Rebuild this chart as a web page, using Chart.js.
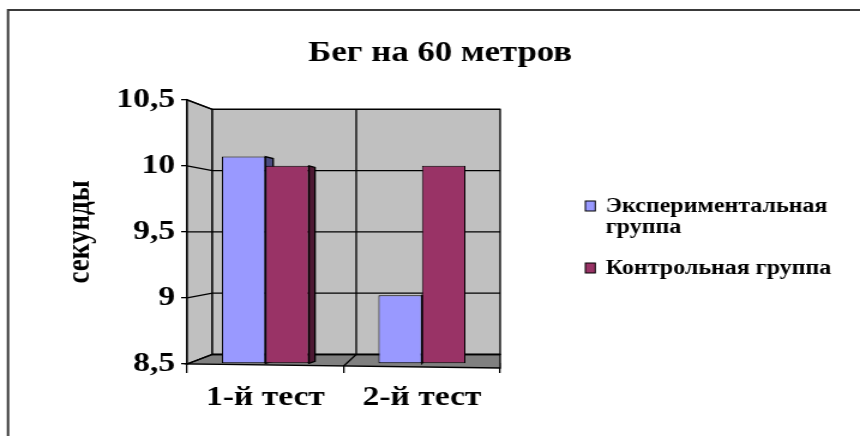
<!DOCTYPE html>
<html>
<head>
<meta charset="utf-8">
<script src="https://cdn.jsdelivr.net/npm/chart.js@4"></script>
<style>
  body { margin: 0; background: #fff; }
</style>
</head>
<body>
<!-- canvas drawn narrower and widened by the inline style, so the chart looks stretched -->
<canvas id="chart" width="717" height="436" style="display:block;width:860px;height:436px"></canvas>
<script>
const categories = ['1-й тест', '2-й тест'];
const seriesNames = ['Экспериментальная группа', 'Контрольная группа'];
const experimental = [10.07, 9.02];
const control = [10, 10];
const yTicks = [8.5, 9, 9.5, 10, 10.5];

const fontFamily = '"Liberation Serif", "Times New Roman", serif';

// fake 3d: side wall, back wall, floor and bar sides
const walls = {
  id: 'walls',
  beforeDatasetsDraw(chart) {
    const ctx = chart.ctx;
    const ca = chart.chartArea;
    const ys = chart.scales.y;
    const xs = chart.scales.x;
    const L = ca.left, R = ca.right;
    const dx = 21;
    const mid = (ca.top + ca.bottom) / 2;
    const yF = v => ys.getPixelForValue(v);
    const yB = v => mid + (yF(v) - mid) * 0.928;
    const xB = x => R - (R - x) * (R - L - dx) / (R - L);
    const lo = yTicks[0], hi = yTicks[yTicks.length - 1];

    ctx.save();
    ctx.lineWidth = 1.3;
    ctx.strokeStyle = '#000';

    // left side wall
    ctx.fillStyle = '#c0c0c0';
    ctx.beginPath();
    ctx.moveTo(L, yF(hi));
    ctx.lineTo(L + dx, yB(hi));
    ctx.lineTo(L + dx, yB(lo));
    ctx.lineTo(L, yF(lo));
    ctx.closePath();
    ctx.fill();
    ctx.stroke();

    // back wall
    ctx.fillRect(L + dx, yB(hi), R - L - dx, yB(lo) - yB(hi));
    ctx.strokeRect(L + dx, yB(hi), R - L - dx, yB(lo) - yB(hi));

    // floor
    ctx.fillStyle = '#808080';
    ctx.beginPath();
    ctx.moveTo(L, yF(lo));
    ctx.lineTo(L + dx, yB(lo));
    ctx.lineTo(R, yB(lo));
    ctx.lineTo(R, yF(lo) + 4);
    ctx.closePath();
    ctx.fill();
    ctx.stroke();

    // grid lines on the walls
    ctx.beginPath();
    yTicks.forEach(v => {
      ctx.moveTo(L, yF(v));
      ctx.lineTo(L + dx, yB(v));
      ctx.lineTo(R, yB(v));
    });
    // category divider on the back wall and floor
    for (let i = 1; i < categories.length; i++) {
      const xf = (xs.getPixelForValue(i - 1) + xs.getPixelForValue(i)) / 2;
      ctx.moveTo(xB(xf), yB(hi));
      ctx.lineTo(xB(xf), yB(lo));
      ctx.lineTo(xf, yF(lo) + 2);
    }
    ctx.stroke();

    // right side faces of the bars (covered by the front faces drawn next)
    const shades = ['#4c4c80', '#4d1933'];
    chart.data.datasets.forEach((ds, i) => {
      chart.getDatasetMeta(i).data.forEach(bar => {
        const p = bar.getProps(['x', 'y', 'base', 'width'], true);
        const xr = p.x + p.width / 2;
        const d = Math.max(0, (R - 25 - xr) * 0.038);
        if (d < 0.5) return;
        ctx.fillStyle = shades[i];
        ctx.beginPath();
        ctx.moveTo(xr, p.y);
        ctx.lineTo(xr + d, p.y + d * 0.3);
        ctx.lineTo(xr + d, p.base - 2);
        ctx.lineTo(xr, p.base);
        ctx.closePath();
        ctx.fill();
        ctx.stroke();
      });
    });
    ctx.restore();
  },
  afterDraw(chart) {
    const ctx = chart.ctx;
    ctx.save();
    // outer frame (only top and left edges fit on the page)
    ctx.strokeStyle = '#3a3a3a';
    ctx.lineWidth = 2;
    ctx.beginPath();
    ctx.moveTo(6.7, chart.height);
    ctx.lineTo(6.7, 10);
    ctx.lineTo(chart.width, 10);
    ctx.stroke();

    // legend on the right, long names wrapped
    ctx.font = 'bold 20px ' + fontFamily;
    ctx.textBaseline = 'middle';
    const maxW = 210, lineH = 21, gap = 20;
    const items = chart.data.datasets.map(ds => {
      const lines = [];
      let cur = '';
      ds.label.split(' ').forEach(w => {
        const t = cur ? cur + ' ' + w : w;
        if (cur && ctx.measureText(t).width > maxW) { lines.push(cur); cur = w; }
        else cur = t;
      });
      lines.push(cur);
      return { lines, color: ds.backgroundColor };
    });
    const total = items.reduce((s, it) => s + it.lines.length * lineH, 0) + gap * (items.length - 1);
    let y = 237 - total / 2;
    items.forEach(it => {
      const cy = y + lineH / 2;
      ctx.fillStyle = it.color;
      ctx.fillRect(488, cy - 5, 8.3, 10);
      ctx.strokeStyle = '#000';
      ctx.lineWidth = 1;
      ctx.strokeRect(488, cy - 5, 8.3, 10);
      ctx.fillStyle = '#000';
      it.lines.forEach((ln, j) => ctx.fillText(ln, 505, cy + 1 + j * lineH));
      y += it.lines.length * lineH + gap;
    });
    ctx.restore();
  }
};

new Chart(document.getElementById('chart'), {
  type: 'bar',
  data: {
    labels: categories,
    datasets: [{
      label: seriesNames[0],
      data: experimental,
      base: yTicks[0],
      backgroundColor: '#9999ff',
      borderColor: '#000',
      borderWidth: 1,
      borderSkipped: false
    }, {
      label: seriesNames[1],
      data: control,
      base: yTicks[0],
      backgroundColor: '#993366',
      borderColor: '#000',
      borderWidth: 1,
      borderSkipped: false
    }]
  },
  options: {
    responsive: false,
    devicePixelRatio: 1,
    animation: false,
    layout: { padding: { left: 17, right: 0, top: 0, bottom: 0 } },
    datasets: { bar: { categoryPercentage: 0.556, barPercentage: 1 } },
    plugins: {
      legend: { display: false },
      tooltip: { enabled: false },
      title: {
        display: true,
        text: 'Бег на 60 метров',
        color: '#000',
        font: { family: fontFamily, size: 29, weight: 'bold' },
        padding: { top: 36, bottom: 29 }
      }
    },
    scales: {
      x: {
        afterFit(scale) { scale.height = 72; },
        grid: { display: true, drawOnChartArea: false, color: '#000', tickLength: 9, lineWidth: 1.3 },
        border: { display: true, color: '#000', width: 1.3 },
        ticks: {
          color: '#000',
          padding: 8,
          font: { family: fontFamily, size: 28, weight: 'bold' }
        }
      },
      y: {
        min: yTicks[0],
        max: yTicks[yTicks.length - 1],
        afterFit(scale) { scale.width = 139; },
        afterBuildTicks(scale) { scale.ticks = yTicks.map(v => ({ value: v })); },
        grid: { display: true, drawOnChartArea: false, color: '#000', tickLength: 5, lineWidth: 1.3 },
        border: { display: true, color: '#000', width: 1.3 },
        ticks: {
          color: '#000',
          padding: 5,
          font: { family: fontFamily, size: 28, weight: 'bold' },
          callback: v => String(v).replace('.', ',')
        },
        title: {
          display: true,
          text: 'секунды',
          color: '#000',
          padding: { top: 34, bottom: 0 },
          font: { family: fontFamily, size: 27, weight: 'bold' }
        }
      },
      // empty axis that keeps room on the right for the legend
      y2: {
        position: 'right',
        afterFit(scale) { scale.width = 300; },
        grid: { display: false },
        border: { display: false },
        ticks: { display: false }
      }
    }
  },
  plugins: [walls]
});
</script>
</body>
</html>
